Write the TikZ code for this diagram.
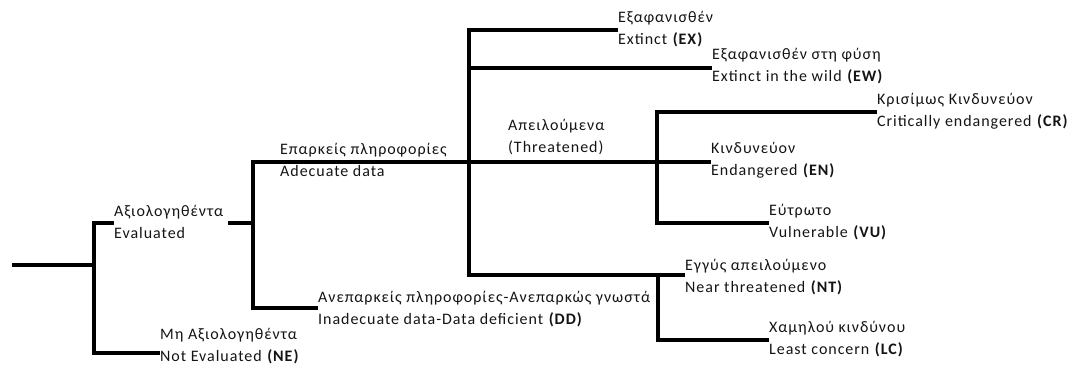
\documentclass[tikz,border=0pt]{standalone}
\usepackage{fontspec}
\setmainfont{Carlito}[LetterSpace=6]
\begin{document}
\begin{tikzpicture}[x=1pt,y=-1pt,
  lbl/.style={anchor=west,align=left,inner sep=0pt,font=\fontsize{16}{21.5}\selectfont,text=black!92},
  br/.style={line width=3.3pt,black}]
\useasboundingbox (0,0) rectangle (1071,365);
% labels
\node[lbl] (ev) at (114,222) {Αξιολογηθέντα\\Evaluated};
\node[lbl] (ne) at (160,346) {Μη Αξιολογηθέντα\\Not Evaluated \textbf{(NE)}};
\node[lbl] (ad) at (280,160) {Επαρκείς πληροφορίες\\Adecuate data};
\node[lbl] (dd) at (318,309) {Ανεπαρκείς πληροφορίες-Ανεπαρκώς γνωστά\\Inadecuate data-Data deficient \textbf{(DD)}};
\node[lbl] (th) at (508,137) {Απειλούμενα\\(Threatened)};
\node[lbl] (ex) at (618,29) {Εξαφανισθέν\\Extinct \textbf{(EX)}};
\node[lbl] (ew) at (712,66) {Εξαφανισθέν στη φύση\\Extinct in the wild \textbf{(EW)}};
\node[lbl] (cr) at (877,111) {Κρισίμως Κινδυνεύον\\Critically endangered \textbf{(CR)}};
\node[lbl] (en) at (711,160) {Κινδυνεύον\\Endangered \textbf{(EN)}};
\node[lbl] (vu) at (769,222) {Εύτρωτο\\Vulnerable \textbf{(VU)}};
\node[lbl] (nt) at (685,277) {Εγγύς απειλούμενο\\Near threatened \textbf{(NT)}};
\node[lbl] (lc) at (769,339) {Χαμηλού κινδύνου\\Least concern \textbf{(LC)}};
% junction coordinates
\coordinate (root) at (12,265);
\coordinate (j1) at (94,265);
\coordinate (j1t) at (94,223);
\coordinate (j1b) at (94,353);
\coordinate (evout) at (228,223);
\coordinate (j2) at (253,223);
\coordinate (j2t) at (253,162);
\coordinate (j2b) at (253,308);
\coordinate (j3t) at (469,30);
\coordinate (j3a) at (469,68);
\coordinate (j3m) at (469,162);
\coordinate (j3b) at (469,275);
\coordinate (j4t) at (657,112);
\coordinate (j4m) at (657,162);
\coordinate (j4b) at (657,223);
\coordinate (j5t) at (658,275);
\coordinate (j5b) at (658,340);
% connectors
\draw[br] (root) -- (j1);
\draw[br] (ev.west |- j1t) -- (j1t) -- (j1b) -- (ne.west |- j1b);
\draw[br] (evout) -- (j2);
\draw[br] (en.west |- j4m) -- (j2t) -- (j2b) -- (dd.west |- j2b);
\draw[br] (ex.west |- j3t) -- (j3t) -- (j3b) -- (nt.west |- j3b);
\draw[br] (j3a) -- (ew.west |- j3a);
\draw[br] (cr.west |- j4t) -- (j4t) -- (j4b) -- (vu.west |- j4b);
\draw[br] (j5t) -- (j5b) -- (lc.west |- j5b);
\end{tikzpicture}
\end{document}
